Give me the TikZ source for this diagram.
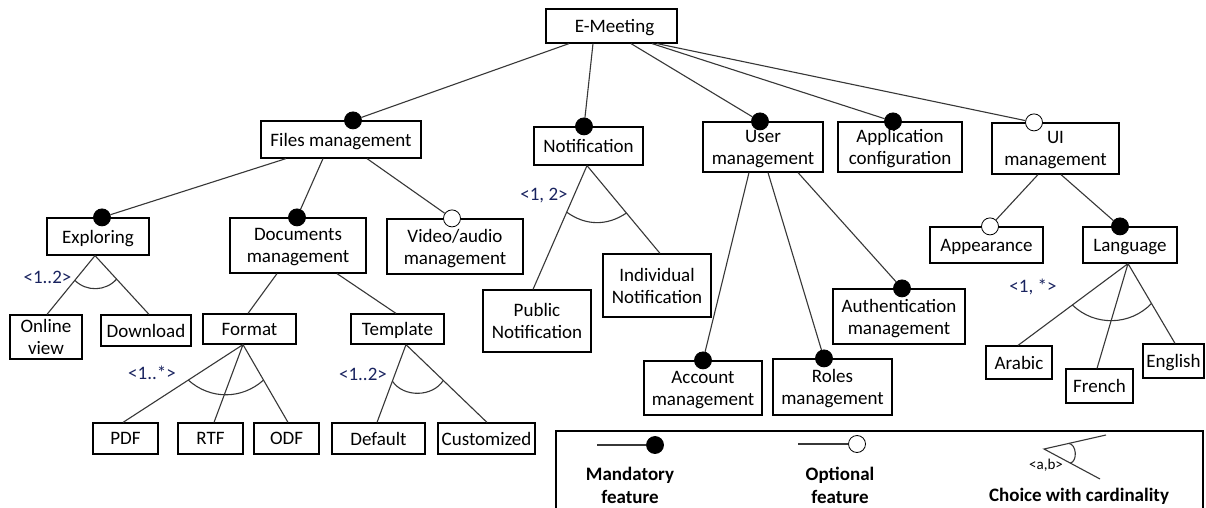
\documentclass[tikz,border=0pt]{standalone}
\usepackage{fontspec}
\setmainfont{Carlito}
\usetikzlibrary{calc}
\definecolor{wirecol}{RGB}{55,55,55}
\definecolor{cardink}{RGB}{25,35,95}
\tikzset{
  feat/.style={draw=black, line width=1.2pt, fill=white, inner sep=0pt, align=center,
    text depth=0pt, font=\fontsize{19}{22}\selectfont},
  mand/.style={circle, fill=black, draw=black, line width=0.8pt, minimum size=17pt, inner sep=0pt},
  opt/.style={circle, fill=white, draw=black, line width=0.8pt, minimum size=17pt, inner sep=0pt},
  wire/.style={draw=wirecol, line width=1.1pt},
  card/.style={text=cardink, font=\fontsize{19}{22}\selectfont, inner sep=0pt},
  legtext/.style={font=\bfseries\fontsize{19}{23}\selectfont, align=center, inner sep=0pt},
}
\begin{document}
\begin{tikzpicture}[x=1pt, y=-1pt]
\useasboundingbox (0,0) rectangle (1206,508);
\clip (0,0) rectangle (1206,508);
\fill[white] (0,0) rectangle (1206,508);

% ---- feature boxes ----
\node[feat, minimum width=131pt, minimum height=34pt] (emeet)   at (611.5,26)   {\hspace*{6pt}E-Meeting};
\node[feat, minimum width=160pt, minimum height=37pt] (files)   at (341,139.5)  {Files management};
\node[feat, minimum width=109pt, minimum height=38pt] (notif)   at (588.5,146)  {Notification};
\node[feat, minimum width=120pt, minimum height=50pt] (user)    at (763,147)    {User\\management};
\node[feat, minimum width=124pt, minimum height=50pt] (appc)    at (900,147)    {Application\\configuration};
\node[feat, minimum width=127pt, minimum height=51pt] (ui)      at (1055.5,148.5) {UI\\management};
\node[feat, minimum width=102pt, minimum height=37pt] (expl)    at (98,236.5)   {Exploring};
\node[feat, minimum width=136pt, minimum height=55pt] (docs)    at (298,245.5)  {Documents\\management};
\node[feat, minimum width=136pt, minimum height=55pt] (video)   at (455,246.5)  {Video/audio\\management};
\node[feat, minimum width=72pt,  minimum height=44pt] (online)  at (46,337)     {Online\\view};
\node[feat, minimum width=90pt,  minimum height=31pt] (download) at (146,330.5) {Download};
\node[feat, minimum width=93pt,  minimum height=30pt] (format)  at (249.5,329)  {Format};
\node[feat, minimum width=93pt,  minimum height=30pt] (templ)   at (397.5,329)  {Template};
\node[feat, minimum width=65pt,  minimum height=31pt] (pdf)     at (125.5,438.5) {PDF};
\node[feat, minimum width=65pt,  minimum height=31pt] (rtf)     at (210.5,438.5) {RTF};
\node[feat, minimum width=65pt,  minimum height=31pt] (odf)     at (286.5,438.5) {ODF};
\node[feat, minimum width=93pt,  minimum height=31pt] (default) at (378.5,438.5) {Default};
\node[feat, minimum width=97pt,  minimum height=31pt] (custom)  at (486.5,438.5) {Customized};
\node[feat, minimum width=108pt, minimum height=62pt] (public)  at (537,321)    {Public\\Notification};
\node[feat, minimum width=108pt, minimum height=63pt] (indiv)   at (657,285.5)  {Individual\\Notification};
\node[feat, minimum width=118pt, minimum height=54pt] (account) at (703,388)    {Account\\management};
\node[feat, minimum width=119pt, minimum height=56pt] (roles)   at (832.5,387)  {Roles\\management};
\node[feat, minimum width=132pt, minimum height=55pt] (auth)    at (899,316.5)  {Authentication\\management};
\node[feat, minimum width=113pt, minimum height=36pt] (appear)  at (986.5,245)  {Appearance};
\node[feat, minimum width=94pt,  minimum height=36pt] (lang)    at (1130,245)   {Language};
\node[feat, minimum width=66pt,  minimum height=33pt] (arabic)  at (1019,362.5) {Arabic};
\node[feat, minimum width=67pt,  minimum height=34pt] (french)  at (1099.5,386) {French};
\node[feat, minimum width=61pt,  minimum height=34pt] (english) at (1173.5,361) {English};

% ---- mandatory / optional markers ----
\node[mand] (d-files)   at ([xshift=12pt]files.north)   {};
\node[mand] (d-notif)   at ([xshift=-4.5pt]notif.north) {};
\node[mand] (d-user)    at ([xshift=-3pt]user.north)    {};
\node[mand] (d-appc)    at ([xshift=-7pt]appc.north)    {};
\node[opt]  (d-ui)      at ([xshift=-21.5pt]ui.north)   {};
\node[mand] (d-expl)    at ([xshift=4pt]expl.north)     {};
\node[mand] (d-docs)    at ([xshift=-1pt]docs.north)    {};
\node[opt]  (d-video)   at ([xshift=-3pt]video.north)   {};
\node[mand] (d-auth)    at ([xshift=3pt]auth.north)     {};
\node[mand] (d-account) at (account.north)              {};
\node[mand] (d-roles)   at ([xshift=-8.5pt]roles.north) {};
\node[opt]  (d-appear)  at ([xshift=3.5pt]appear.north) {};
\node[mand] (d-lang)    at ([xshift=-10pt]lang.north)   {};

% ---- solitary feature connectors ----
\draw[wire] ([xshift=-42.5pt]emeet.south) -- (d-files);
\draw[wire] ([xshift=-18.5pt]emeet.south) -- (d-notif);
\draw[wire] ([xshift=19.5pt]emeet.south)  -- (d-user);
\draw[wire] ([xshift=40.5pt]emeet.south)  -- (d-appc);
\draw[wire] ([xshift=45.5pt]emeet.south)  -- (d-ui);
\draw[wire] ([xshift=-55pt]files.south)   -- (d-expl);
\draw[wire] ([xshift=-18pt]files.south)   -- (d-docs);
\draw[wire] ([xshift=26pt]files.south)    -- (d-video);
\draw[wire] ([xshift=-21pt]docs.south)    -- ([xshift=-1.5pt]format.north);
\draw[wire] ([xshift=39pt]docs.south)     -- ([xshift=-1.5pt]templ.north);
\draw[wire] ([xshift=-14pt]user.south)    -- (d-account);
\draw[wire] ([xshift=5pt]user.south)      -- (d-roles);
\draw[wire] ([xshift=35pt]user.south)     -- (d-auth);
\draw[wire] ([xshift=-17.5pt]ui.south)    -- (d-appear);
\draw[wire] ([xshift=5.5pt]ui.south)      -- (d-lang);

% ---- choice groups with cardinality ----
% Exploring
\coordinate (ex-a) at ([xshift=-3pt]expl.south);
\coordinate (ex-1) at ([xshift=1pt]online.north);
\coordinate (ex-2) at ([xshift=3pt]download.north);
\draw[wire] (ex-a) -- (ex-1) (ex-a) -- (ex-2);
\draw[wire] ($(ex-a)!0.42!(ex-1)$) to[bend right=47] ($(ex-a)!0.40!(ex-2)$);
\node[card] (c-expl) at (47.5,277) {<1..2>};
% Format
\coordinate (fm-a) at ([xshift=-6.5pt]format.south);
\coordinate (fm-1) at ([xshift=-2.5pt]pdf.north);
\coordinate (fm-2) at ([xshift=3.5pt]rtf.north);
\coordinate (fm-3) at ([xshift=1.5pt]odf.north);
\draw[wire] (fm-a) -- (fm-1) (fm-a) -- (fm-2) (fm-a) -- (fm-3);
\draw[wire] ($(fm-a)!0.456!(fm-1)$) to[bend right=42] ($(fm-a)!0.456!(fm-3)$);
\node[card] (c-format) at (152,373) {<1..*>};
% Template
\coordinate (tp-a) at ([xshift=8.5pt]templ.south);
\coordinate (tp-1) at ([xshift=-1.5pt]default.north);
\coordinate (tp-2) at ([xshift=0.5pt]custom.north);
\draw[wire] (tp-a) -- (tp-1) (tp-a) -- (tp-2);
\draw[wire] ($(tp-a)!0.47!(tp-1)$) to[bend right=57] ($(tp-a)!0.46!(tp-2)$);
\node[card] (c-templ) at (363,374) {<1..2>};
% Notification
\coordinate (nt-a) at ([xshift=-1.5pt]notif.south);
\coordinate (nt-1) at ([xshift=-4pt]public.north);
\coordinate (nt-2) at ([xshift=3pt]indiv.north);
\draw[wire] (nt-a) -- (nt-1) (nt-a) -- (nt-2);
\draw[wire] ($(nt-a)!0.376!(nt-1)$) to[bend right=35] ($(nt-a)!0.54!(nt-2)$);
\node[card] (c-notif) at (544,196) {<1, 2>};
% Language
\coordinate (lg-a) at ([xshift=-2pt]lang.south);
\coordinate (lg-1) at ([xshift=-1pt]arabic.north);
\coordinate (lg-2) at ([xshift=-2.5pt]french.north);
\coordinate (lg-3) at ([xshift=1.5pt]english.north);
\draw[wire] (lg-a) -- (lg-1) (lg-a) -- (lg-2) (lg-a) -- (lg-3);
\draw[wire] ($(lg-a)!0.506!(lg-1)$) to[bend right=45] ($(lg-a)!0.5!(lg-3)$);
\node[card] (c-lang) at (1033,287) {<1, *>};

% ---- legend ----
\draw[black, line width=1.2pt] (556,431) rectangle (1203,530);
\coordinate (lg-mand-a) at (597,445);
\node[mand] (lg-mand) at (655,445) {};
\draw[wire] (lg-mand-a) -- (lg-mand);
\node[legtext] (lg-mand-t) at (630,485) {Mandatory\\feature};
\coordinate (lg-opt-a) at (798,444);
\node[opt] (lg-opt) at (857,444) {};
\draw[wire] (lg-opt-a) -- (lg-opt);
\node[legtext] (lg-opt-t) at (840,485) {Optional\\feature};
\coordinate (lg-ch-v) at (1044,449);
\coordinate (lg-ch-1) at (1106,435);
\coordinate (lg-ch-2) at (1100,479);
\draw[wire] (lg-ch-1) -- (lg-ch-v) -- (lg-ch-2);
\draw[wire] ($(lg-ch-v)!0.4!(lg-ch-1)$) to[bend left=80] ($(lg-ch-v)!0.47!(lg-ch-2)$);
\node[inner sep=0pt, font=\fontsize{15}{17}\selectfont] (lg-ch-l) at (1046,465) {<a,b>};
\node[legtext] (lg-ch-t) at (1079,496) {Choice with cardinality};
\end{tikzpicture}
\end{document}
